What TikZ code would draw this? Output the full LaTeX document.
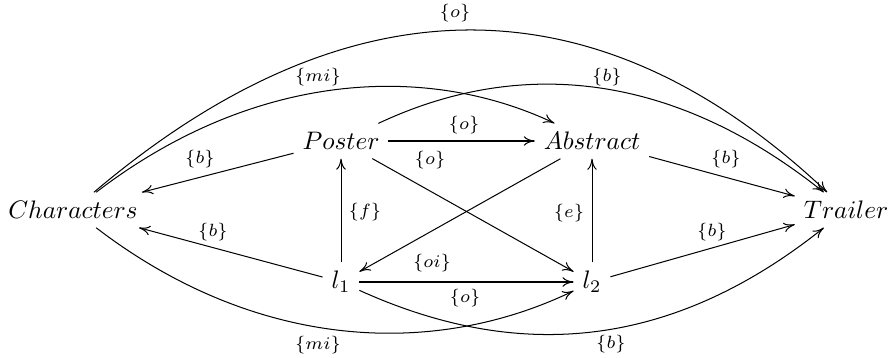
\documentclass[tikz,border=0pt]{standalone}
\usetikzlibrary{arrows.meta}
\begin{document}
\begin{tikzpicture}[x=0.395pt,y=-0.395pt,
  ev/.style={inner sep=0.3333em},
  lab/.style={font=\scriptsize, inner sep=0pt},
  rel/.style={-{To[length=4.4pt,width=3.8pt]}}]
\useasboundingbox (0,0) rectangle (888,358);
\node[ev] (C) at (73,210) {$Characters$};
\node[ev] (P) at (341,141) {$Poster$};
\node[ev] (A) at (592,141) {$Abstract$};
\node[ev] (T) at (846,210) {$Trailer$};
\node[ev] (L1) at (341,282) {$l_1$};
\node[ev] (L2) at (592,282) {$l_2$};

\draw[rel] (P) -- (C);
\draw[rel] (L1) -- (C);
\draw[rel] (L1) -- (P);
\draw[rel] (L2) -- (A);
\draw[rel] (P) -- (A);
\draw[rel] (P) -- (L2);
\draw[rel] (A) -- (L1);
\draw[rel] (L1) -- (L2);
\draw[rel] (A) -- (T);
\draw[rel] (L2) -- (T);
\draw[rel] (C) .. controls (349,-24) and (598,-24) .. (T);
\draw[rel] (C) .. controls (253,72) and (425,62) .. (A);
\draw[rel] (P) .. controls (513,60) and (667,67) .. (T);
\draw[rel] (C) .. controls (253,348) and (430,360) .. (L2);
\draw[rel] (L1) .. controls (513,360) and (667,353) .. (T);

\node[lab] (l1) at (455,13) {$\{o\}$};
\node[lab] (l2) at (318,77) {$\{mi\}$};
\node[lab] (l3) at (607,77) {$\{b\}$};
\node[lab] (l4) at (200,159) {$\{b\}$};
\node[lab] (l5) at (464,125) {$\{o\}$};
\node[lab] (l6) at (430,160) {$\{o\}$};
\node[lab] (l7) at (726,159) {$\{b\}$};
\node[lab] (l8) at (365,212) {$\{f\}$};
\node[lab] (l9) at (569,213) {$\{e\}$};
\node[lab] (l10) at (213,232) {$\{b\}$};
\node[lab] (l11) at (712,232) {$\{b\}$};
\node[lab] (l12) at (432,263) {$\{oi\}$};
\node[lab] (l13) at (465,298) {$\{o\}$};
\node[lab] (l14) at (318,345) {$\{mi\}$};
\node[lab] (l15) at (611,344) {$\{b\}$};
\end{tikzpicture}
\end{document}
